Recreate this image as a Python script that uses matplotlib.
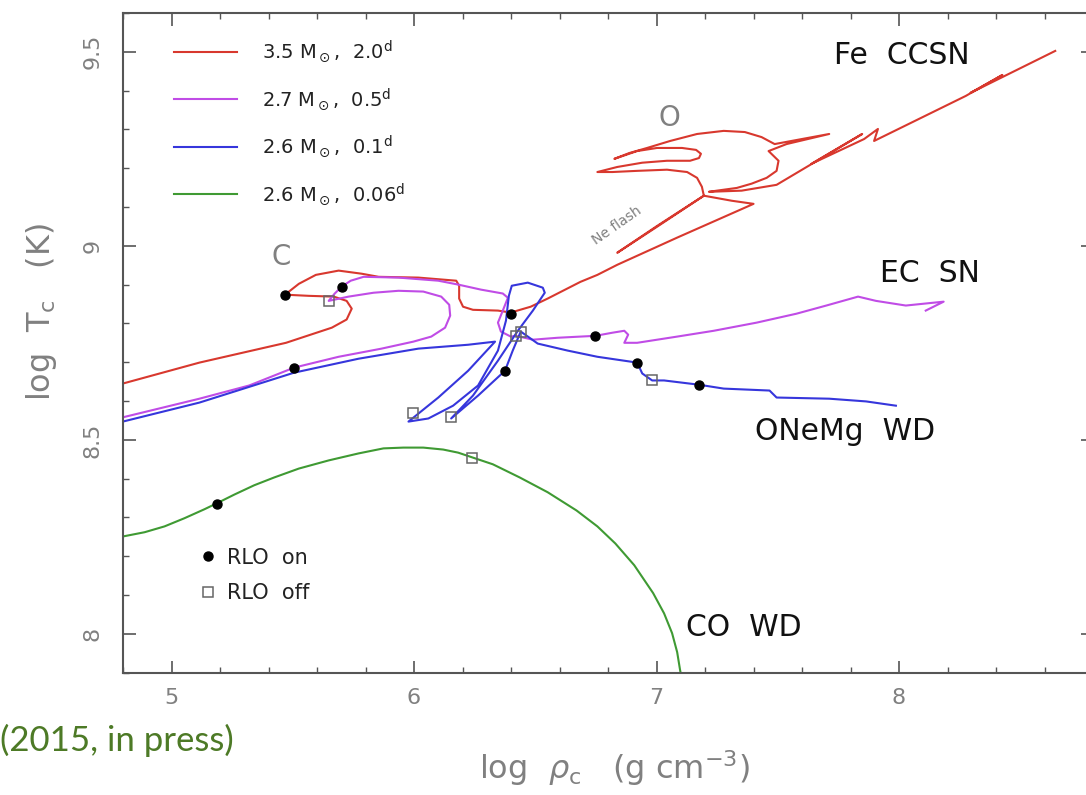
import numpy as np
import matplotlib
matplotlib.use("Agg")
import matplotlib.pyplot as plt

# ---- evolutionary tracks: central density vs central temperature ----
labels = [r"3.5 M$_\odot$,  2.0$^{\rm d}$",
          r"2.7 M$_\odot$,  0.5$^{\rm d}$",
          r"2.6 M$_\odot$,  0.1$^{\rm d}$",
          r"2.6 M$_\odot$,  0.06$^{\rm d}$"]
colors = ["#d8382e", "#c04ce6", "#3636dc", "#3f9a33"]

# 3.5 Msun track (C burning, Ne flash, O burning, Fe core collapse)
red_rho = [4.799, 5.115, 5.472, 5.661, 5.722, 5.743, 5.722, 5.669, 5.566, 5.468,
           5.525, 5.595, 5.689, 5.784, 5.854, 6.018, 6.174, 6.186, 6.186, 6.202,
           6.243, 6.346, 6.399, 6.481, 6.551, 6.686, 6.756, 6.838, 7.085, 7.400,
           7.310, 7.195, 7.002, 6.838, 7.002, 7.195,
           7.187, 7.167, 7.126, 7.043, 6.920, 6.818, 6.756, 6.838, 6.941, 7.043,
           7.138, 7.175, 7.183, 7.163, 7.105, 7.002, 6.920, 6.826, 6.888, 6.961,
           7.056, 7.167, 7.277, 7.364, 7.433, 7.487, 7.712, 7.536, 7.462, 7.503,
           7.495, 7.454, 7.392, 7.331, 7.249, 7.216, 7.351, 7.495,
           7.848, 7.638, 7.856, 7.913, 7.897, 8.275, 8.426, 8.295, 8.644]
red_T = [8.645, 8.699, 8.750, 8.789, 8.810, 8.838, 8.858, 8.869, 8.871, 8.874,
         8.902, 8.925, 8.936, 8.928, 8.920, 8.918, 8.910, 8.897, 8.864, 8.843,
         8.835, 8.833, 8.828, 8.843, 8.864, 8.907, 8.925, 8.951, 9.021, 9.108,
         9.116, 9.129, 9.051, 8.982, 9.049, 9.129,
         9.152, 9.175, 9.190, 9.196, 9.193, 9.190, 9.190, 9.203, 9.214, 9.219,
         9.219, 9.226, 9.237, 9.247, 9.252, 9.252, 9.244, 9.224, 9.239, 9.252,
         9.270, 9.288, 9.296, 9.293, 9.280, 9.262, 9.288, 9.262, 9.244, 9.219,
         9.193, 9.175, 9.160, 9.149, 9.142, 9.139, 9.142, 9.157,
         9.288, 9.211, 9.275, 9.301, 9.270, 9.386, 9.440, 9.394, 9.502]

# 2.7 Msun track (electron-capture SN)
pur_rho = [4.799, 5.115, 5.320, 5.505, 5.689, 5.866, 5.997, 6.071, 6.128, 6.149,
           6.145, 6.112, 6.038, 5.936, 5.833, 5.730, 5.648, 5.673, 5.702, 5.739,
           5.792, 5.936, 6.100, 6.182, 6.276, 6.366, 6.387, 6.366, 6.346, 6.358,
           6.399, 6.420, 6.490, 6.592, 6.748, 6.818, 6.867, 6.883, 6.867, 6.920,
           7.085, 7.236, 7.413, 7.577, 7.700, 7.831, 7.905, 8.028, 8.184, 8.110]
pur_T = [8.558, 8.606, 8.640, 8.686, 8.714, 8.735, 8.753, 8.766, 8.789, 8.820,
         8.848, 8.869, 8.882, 8.884, 8.879, 8.869, 8.858, 8.877, 8.895, 8.910,
         8.920, 8.918, 8.910, 8.900, 8.887, 8.877, 8.866, 8.833, 8.802, 8.779,
         8.766, 8.768, 8.758, 8.763, 8.768, 8.776, 8.781, 8.771, 8.750, 8.750,
         8.766, 8.781, 8.802, 8.825, 8.846, 8.869, 8.858, 8.846, 8.856, 8.833]

# 2.6 Msun, 0.1 d track (ONeMg white dwarf)
blu_rho = [4.799, 5.115, 5.505, 5.771, 6.018, 6.223, 6.334, 6.223, 6.100, 5.977,
           6.059, 6.161, 6.264, 6.346, 6.379, 6.391, 6.403, 6.469, 6.531, 6.539,
           6.490, 6.428, 6.346, 6.243, 6.153, 6.264, 6.375, 6.407, 6.440, 6.510,
           6.633, 6.756, 6.920, 6.941, 6.982, 7.031, 7.175, 7.277, 7.466, 7.495,
           7.712, 7.864, 7.987]
blu_T = [8.547, 8.596, 8.673, 8.709, 8.735, 8.745, 8.753, 8.678, 8.609, 8.547,
         8.555, 8.588, 8.640, 8.730, 8.807, 8.871, 8.897, 8.905, 8.892, 8.879,
         8.833, 8.781, 8.704, 8.614, 8.555, 8.614, 8.678, 8.730, 8.779, 8.748,
         8.730, 8.714, 8.699, 8.671, 8.653, 8.653, 8.642, 8.632, 8.627, 8.609,
         8.606, 8.599, 8.588]

# 2.6 Msun, 0.06 d track (CO white dwarf)
grn_rho = [4.799, 4.889, 4.971, 5.053, 5.135, 5.185, 5.259, 5.341, 5.423, 5.525,
           5.648, 5.771, 5.874, 5.956, 6.038, 6.120, 6.182, 6.239, 6.325, 6.436,
           6.551, 6.670, 6.756, 6.830, 6.908, 6.986, 7.031, 7.064, 7.085, 7.097,
           7.105]
grn_T = [8.251, 8.262, 8.277, 8.298, 8.321, 8.336, 8.359, 8.383, 8.403, 8.426,
         8.447, 8.465, 8.478, 8.480, 8.480, 8.475, 8.467, 8.455, 8.437, 8.403,
         8.365, 8.318, 8.277, 8.233, 8.177, 8.105, 8.053, 8.002, 7.953, 7.907,
         7.881]

# Roche-lobe overflow onset / end markers
rlo_on_rho = [5.468, 6.399, 5.702, 5.505, 6.748, 6.375, 6.920, 7.175, 5.187]
rlo_on_T = [8.874, 8.825, 8.895, 8.686, 8.768, 8.678, 8.699, 8.642, 8.335]
rlo_off_rho = [5.648, 6.420, 6.440, 5.997, 6.153, 6.982, 6.239]
rlo_off_T = [8.858, 8.768, 8.779, 8.568, 8.560, 8.653, 8.452]

tracks = [(red_rho, red_T), (pur_rho, pur_T), (blu_rho, blu_T), (grn_rho, grn_T)]

fig = plt.figure(figsize=(10.86, 7.95), dpi=100)
ax = fig.add_axes([0.1133, 0.1538, 0.8932, 0.830])

handles = []
for (rho, T), lab, col in zip(tracks, labels, colors):
    h, = ax.plot(rho, T, color=col, lw=1.5, label=lab, solid_joinstyle="round")
    handles.append(h)

on_h, = ax.plot(rlo_on_rho, rlo_on_T, "o", ms=6.5, color="black", ls="none",
                zorder=5, label="RLO  on")
off_h, = ax.plot(rlo_off_rho, rlo_off_T, "s", ms=7.5, mfc="none", mec="#666666",
                 mew=1.1, ls="none", zorder=5, label="RLO  off")

ax.set_xlim(4.80, 8.78)
ax.set_ylim(7.90, 9.60)

grey = "#808080"
ax.set_xticks([5, 6, 7, 8])
ax.set_xticks(np.arange(4.8, 8.8, 0.2), minor=True)
ax.set_yticks([8.0, 8.5, 9.0, 9.5])
ax.set_yticklabels(["8", "8.5", "9", "9.5"])
ax.set_yticks(np.arange(7.9, 9.61, 0.1), minor=True)
ax.tick_params(which="both", direction="in", top=True, right=True,
               color="#555555", labelcolor=grey, labelsize=16)
ax.tick_params(which="major", length=9, width=1.2)
ax.tick_params(which="minor", length=4.5, width=1.0)
ax.tick_params(axis="x", pad=11)
ax.tick_params(axis="y", pad=15)
for t in ax.get_yticklabels():
    t.set_rotation(90)
    t.set_va("center")
for s in ax.spines.values():
    s.set_color("#555555")
    s.set_linewidth(1.5)

ax.set_xlabel(r"log  $\rho_{\rm c}$   (g cm$^{-3}$)", fontsize=23, color=grey)
ax.xaxis.set_label_coords(0.507, -0.115)
ax.set_ylabel(r"log  T$_{\rm c}$   (K)", fontsize=23, color=grey)
ax.yaxis.set_label_coords(-0.066, 0.546)

leg1 = ax.legend(handles=handles, loc="upper left", bbox_to_anchor=(0.035, 0.988),
                 frameon=False, fontsize=14, handlelength=3.2, handletextpad=1.3,
                 labelspacing=1.12, labelcolor="#222222")
ax.add_artist(leg1)
ax.legend(handles=[on_h, off_h], loc="upper left", bbox_to_anchor=(0.060, 0.218),
          frameon=False, fontsize=15, handlelength=0.8, handletextpad=0.5,
          labelspacing=0.75, labelcolor="#222222")

txt = dict(fontsize=21.5, color="#111111", ha="center", va="center")
ax.text(8.012, 9.489, "Fe  CCSN", **txt)
ax.text(8.127, 8.928, "EC  SN", **txt)
ax.text(7.778, 8.521, "ONeMg  WD", **txt)
ax.text(7.359, 8.017, "CO  WD", **txt)
ax.text(5.451, 8.972, "C", fontsize=20, color=grey, ha="center", va="center")
ax.text(7.052, 9.329, "O", fontsize=20, color=grey, ha="center", va="center")
ax.text(6.838, 9.051, "Ne flash", fontsize=10, color=grey, ha="center",
        va="center", rotation=35)

fig.text(0.0, 0.069, "(2015, in press)", fontsize=25, color="#4d7a26",
         family="Lato", ha="left", va="center")

fig.savefig("out.png", dpi=100)
